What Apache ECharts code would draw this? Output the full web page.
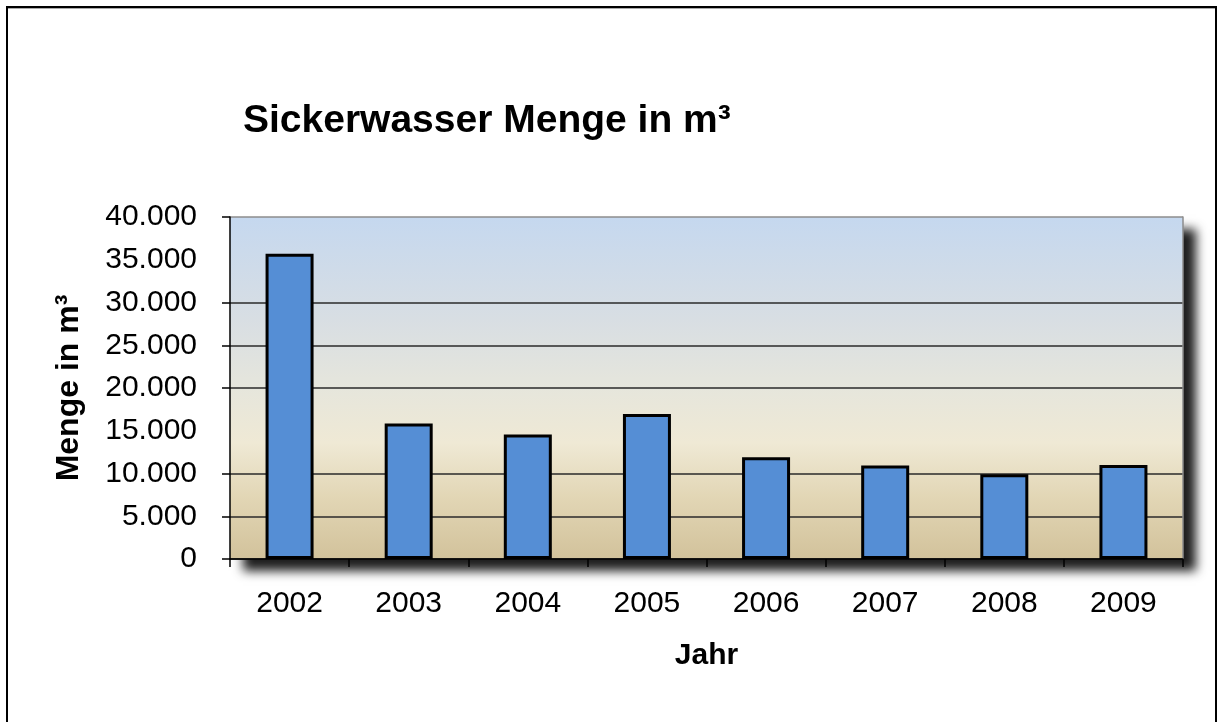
<!DOCTYPE html>
<html>
<head>
<meta charset="utf-8">
<script src="https://cdn.jsdelivr.net/npm/echarts@6/dist/echarts.min.js"></script>
<style>
  html, body { margin: 0; padding: 0; background: #fff; }
  #frame { position: absolute; left: 6px; top: 6px; width: 1207px; height: 730px;
           border: 2px solid #000; border-bottom: none; }
  #frame2 { position: absolute; left: 8px; top: 8px; width: 1207px; height: 730px;
           border-top: 1px solid #aaa; }
  #chart { position: absolute; left: 0; top: 0; width: 1219px; height: 722px; }
</style>
</head>
<body>
<div id="chart"></div>
<div id="frame"></div>
<div id="frame2"></div>
<script>
const titleText = 'Sickerwasser Menge in m³';
const yAxisName = 'Menge in m³';
const xAxisName = 'Jahr';
const categories = ['2002', '2003', '2004', '2005', '2006', '2007', '2008', '2009'];
const values = [35700, 15850, 14550, 16950, 11900, 10950, 9900, 11000];
const yTicks = [0, 5000, 10000, 15000, 20000, 25000, 30000, 35000, 40000];
const hiddenTicks = [15000, 35000];

const fmt = v => String(v).replace(/\B(?=(\d{3})+(?!\d))/g, '.');

const chart = echarts.init(document.getElementById('chart'), null, { renderer: 'canvas' });

const lineColors = yTicks.map((t, i) =>
  hiddenTicks.includes(t) ? 'rgba(0,0,0,0)' : (i === yTicks.length - 1 ? '#8c8c8c' : '#2a2a2a'));

chart.setOption({
  animation: false,
  backgroundColor: '#fff',
  title: {
    text: titleText,
    left: 238, top: 97,
    textStyle: { fontFamily: 'Liberation Sans', fontWeight: 'bold', fontSize: 39, color: '#000' }
  },
  grid: {
    left: 230, right: 36, top: 217, bottom: 163,
    show: true,
    backgroundColor: new echarts.graphic.LinearGradient(0, 0, 0, 1, [
      { offset: 0, color: '#c5d8ef' },
      { offset: 0.3, color: '#d8dee3' },
      { offset: 0.5, color: '#e6e6dc' },
      { offset: 0.66, color: '#efe9d5' },
      { offset: 0.82, color: '#e2d6b5' },
      { offset: 1, color: '#d2c29b' }
    ]),
    borderWidth: 0,
    shadowColor: 'rgba(0,0,0,0.88)', shadowBlur: 10, shadowOffsetX: 13, shadowOffsetY: 12
  },
  xAxis: {
    type: 'category',
    data: categories,
    name: xAxisName,
    nameLocation: 'middle',
    nameGap: 82,
    nameTextStyle: { fontFamily: 'Liberation Sans', fontWeight: 'bold', fontSize: 30, color: '#000' },
    axisLine: { show: true, lineStyle: { color: '#000', width: 1.5 } },
    axisTick: { show: true, length: 8, lineStyle: { color: '#000', width: 1.5 } },
    axisLabel: { margin: 30, fontFamily: 'Liberation Sans', fontSize: 30, color: '#000' },
    z: 5
  },
  yAxis: [{
    type: 'value',
    min: 0, max: 40000, interval: 5000,
    name: yAxisName,
    nameLocation: 'middle',
    nameRotate: 90,
    nameGap: 145,
    nameTextStyle: { fontFamily: 'Liberation Sans', fontWeight: 'bold', fontSize: 32, color: '#000' },
    axisLine: { show: false },
    axisTick: { show: false },
    axisLabel: { margin: 33, fontFamily: 'Liberation Sans', fontSize: 30, color: '#000', formatter: v => fmt(v) },
    splitLine: { show: true, lineStyle: { color: lineColors, width: 1.5 } }
  }, {
    type: 'category',
    data: yTicks.map(fmt),
    boundaryGap: false,
    position: 'left',
    axisLine: { show: true, onZero: false, lineStyle: { color: '#000', width: 1.5 } },
    axisTick: {
      show: true, length: 8,
      interval: (idx) => !hiddenTicks.includes(yTicks[idx]),
      lineStyle: { color: '#000', width: 1.5 }
    },
    axisLabel: { show: false },
    splitLine: { show: false },
    z: 5
  }, {
    type: 'value',
    min: 0, max: 40000, interval: 5000,
    position: 'right',
    axisLine: { show: true, onZero: false, lineStyle: { color: '#8c8c8c', width: 1.5 } },
    axisTick: { show: false },
    axisLabel: { show: false },
    splitLine: { show: false }
  }],
  series: [{
    type: 'bar',
    data: values,
    barWidth: 48,
    itemStyle: { color: '#558ed5', borderColor: '#000', borderWidth: 3 }
  }]
});
</script>
</body>
</html>
